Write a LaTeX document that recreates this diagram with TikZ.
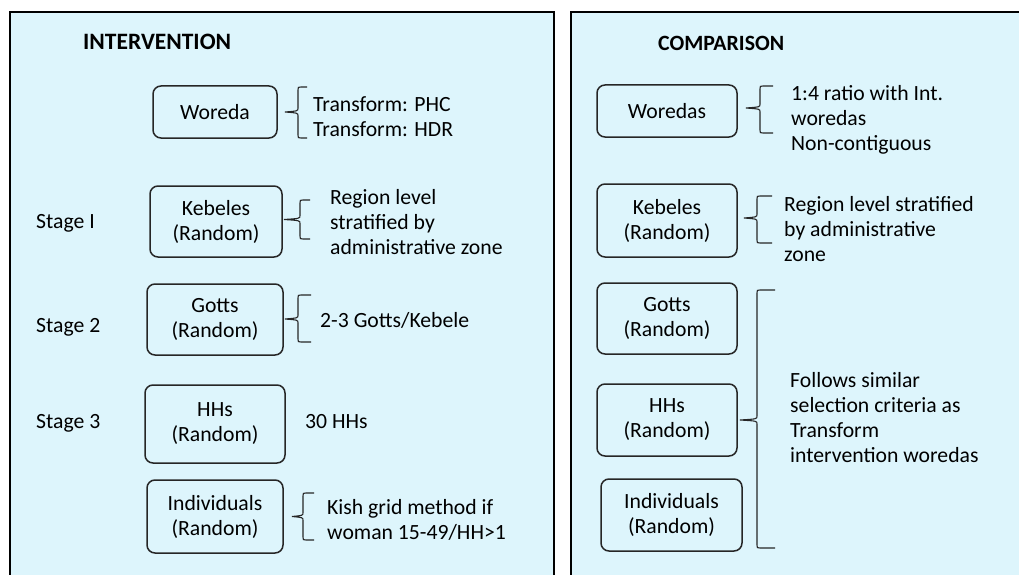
\documentclass[tikz,border=0pt]{standalone}
\usepackage{fontspec}
\setmainfont{Carlito}
\definecolor{panelfill}{RGB}{221,245,252}
\newcommand\fs{\fontsize{21.7}{25}\selectfont}
\newcommand\lbr[6]{% tipx, xv, xe, top, mid, bot
  \draw[bracestyle] (#3,#4) -- (#2+3,#4) .. controls (#2,#4) .. (#2,#4+3)
    -- (#2,#5-4) .. controls (#2,#5-1) .. (#1,#5)
    .. controls (#2,#5+1) .. (#2,#5+4) -- (#2,#6-3)
    .. controls (#2,#6) .. (#2+3,#6) -- (#3,#6);}
\begin{document}
\begin{tikzpicture}[x=1pt,y=-1pt,
  panel/.style={draw=black,line width=1.6pt},
  box/.style={draw=black!85,line width=1.5pt,rounded corners=8pt,fill=panelfill,
    align=center,font=\fs,inner sep=0pt},
  txt/.style={align=left,font=\fs,inner sep=0pt,anchor=west},
  head/.style={inner sep=0pt,anchor=west},
  bracestyle/.style={draw=black!85,line width=1.1pt}]
\useasboundingbox (0,0) rectangle (1019,575);
\fill[white] (0,0) rectangle (1019,575);
% panels
\fill[panelfill] (10,12) rectangle (554,575);
\draw[panel] (10,576) -- (10,12) -- (554,12) -- (554,576);
\fill[panelfill] (571,12) rectangle (1019,575);
\draw[panel] (571,576) -- (571,12) -- (1020,12);
% headers
\node[head,font=\fontsize{23.5}{26}\selectfont\bfseries] (hInt) at (83,42) {INTERVENTION};
\node[head,font=\fontsize{21.8}{25}\selectfont\bfseries] (hCmp) at (658,43) {COMPARISON};
% left boxes
\node[box,minimum width=124pt,minimum height=52pt] (woreda) at (215,112) {Woreda};
\node[box,minimum width=132pt,minimum height=71pt] (keb) at (216,221.5) {Kebeles\\(Random)};
\node[box,minimum width=136pt,minimum height=71pt] (gotts) at (215,319.5) {Gotts\\(Random)};
\node[box,minimum width=140pt,minimum height=78pt] (hhs) at (215,424) {HHs\\(Random)};
\node[box,minimum width=136pt,minimum height=73pt] (ind) at (215,516.5) {Individuals\\(Random)};
% stage labels
\node[txt] (s1) at (36,223) {Stage I};
\node[txt] (s2) at (36,327) {Stage 2};
\node[txt] (s3) at (36,423) {Stage 3};
% left annotations
\node[txt] (t1) at (313,117) {Transform: PHC\\Transform: HDR};
\node[txt] (t2) at (330,222) {Region level\\stratified by\\administrative zone};
\node[txt] (t3) at (320,320) {2-3 Gotts/Kebele};
\node[txt] (t4) at (305,422) {30 HHs};
\node[txt] (t5) at (327,520) {Kish grid method if\\woman 15-49/HH>1};
% left braces
\lbr{285}{298}{307}{87}{112}{138}
\lbr{284}{300}{310}{200}{219.5}{239}
\lbr{285}{298}{311}{295}{319}{342}
\lbr{292}{303}{314}{493}{516.5}{540}
% right boxes
\node[box,minimum width=140pt,minimum height=52pt] (woredas) at (667,111) {Woredas};
\node[box,minimum width=140pt,minimum height=73pt] (kebR) at (667,220.5) {Kebeles\\(Random)};
\node[box,minimum width=140pt,minimum height=71pt] (gottsR) at (667,318.5) {Gotts\\(Random)};
\node[box,minimum width=140pt,minimum height=72pt] (hhsR) at (667,420) {HHs\\(Random)};
\node[box,minimum width=141pt,minimum height=72pt] (indR) at (671.5,515) {Individuals\\(Random)};
% right annotations
\node[txt] (r1) at (791,120) {1:4 ratio with Int.\\woredas\\Non-contiguous};
\node[txt] (r2) at (784,229) {Region level stratified\\by administrative\\zone};
\node[txt] (r3) at (790,418) {Follows similar\\selection criteria as\\Transform\\intervention woredas};
% right braces
\lbr{746}{760}{773}{86}{108}{133}
\lbr{744}{757}{772}{196}{218}{243}
\lbr{740}{757}{775}{290}{420}{548}
\end{tikzpicture}
\end{document}
